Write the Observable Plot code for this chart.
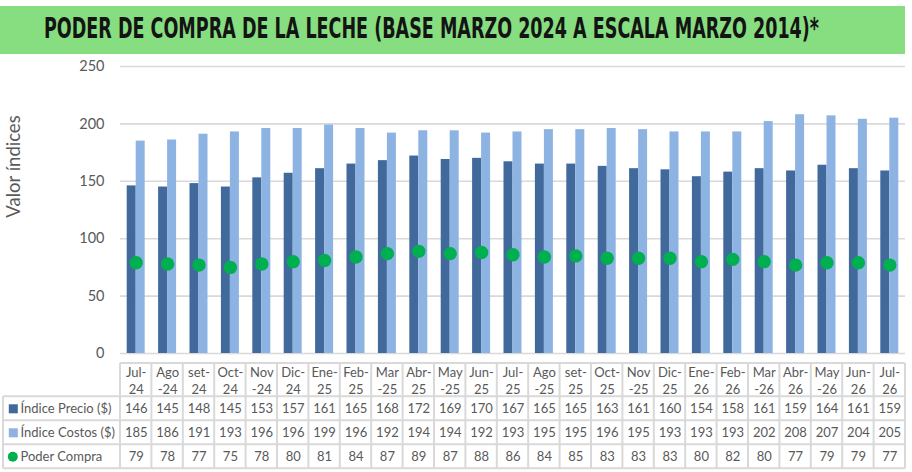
<!DOCTYPE html>
<html><head><meta charset="utf-8">
<script src="https://cdn.jsdelivr.net/npm/d3@7"></script>
<script src="https://cdn.jsdelivr.net/npm/@observablehq/plot@0.6"></script>
<style>
body{margin:0;background:#fff;width:912px;height:472px;overflow:hidden;position:relative;font-family:Lato,sans-serif;}
#banner{position:absolute;left:0;top:6px;width:905px;height:48px;background:#86de80;}
#title{position:absolute;left:44px;top:-1px;line-height:48px;white-space:nowrap;font-family:"DejaVu Sans Condensed","DejaVu Sans",sans-serif;font-weight:bold;font-size:28px;color:#141414;transform-origin:0 50%;display:inline-block;}
#chart{position:absolute;left:0;top:55px;}
</style></head>
<body>
<div id="banner"><span id="title">PODER DE COMPRA DE LA LECHE (BASE MARZO 2024 A ESCALA MARZO 2014)*</span></div>
<div id="chart"></div>
<script>
const months = ["Jul-24","Ago-24","set-24","Oct-24","Nov-24","Dic-24","Ene-25","Feb-25","Mar-25","Abr-25","May-25","Jun-25","Jul-25","Ago-25","set-25","Oct-25","Nov-25","Dic-25","Ene-26","Feb-26","Mar-26","Abr-26","May-26","Jun-26","Jul-26"];
const headerLabels = ["Jul-\n24","Ago\n-24","set-\n24","Oct-\n24","Nov\n-24","Dic-\n24","Ene-\n25","Feb-\n25","Mar\n-25","Abr-\n25","May\n-25","Jun-\n25","Jul-\n25","Ago\n-25","set-\n25","Oct-\n25","Nov\n-25","Dic-\n25","Ene-\n26","Feb-\n26","Mar\n-26","Abr-\n26","May\n-26","Jun-\n26","Jul-\n26"];
const precio = [146,145,148,145,153,157,161,165,168,172,169,170,167,165,165,163,161,160,154,158,161,159,164,161,159];
const costos = [185,186,191,193,196,196,199,196,192,194,194,192,193,195,195,196,195,193,193,193,202,208,207,204,205];
const poder = [79,78,77,75,78,80,81,84,87,89,87,88,86,84,85,83,83,83,80,82,80,77,79,79,77];
const seriesNames = ["Índice Precio ($)","Índice Costos ($)","Poder Compra"];
const yTicks = [0,50,100,150,200,250];
const yLabel = "Valor índices";

const colDark = "#41699c", colLight = "#8db3e2", colGreen = "#00b050", txt = "#595959";

const data = months.map((m,i)=>({m, header: headerLabels[i], precio: precio[i], costos: costos[i], poder: poder[i]}));

// fit title
const t = document.getElementById("title");
const tw = t.getBoundingClientRect().width;
t.style.transform = `scaleX(${775/tw})`;

const W=912, H=417, mt=11, mb=119, ml=120, mr=7;
const fs = 13;
const rowDy = [55.3, 79.3, 103.3];
const tbl = {frameAnchor: "bottom", lineAnchor: "middle", fontSize: fs, fill: txt};
const leg = {frameAnchor: "bottom-left", textAnchor: "start", lineAnchor: "middle", dx: -100, fontSize: fs, fill: txt};

const chart = Plot.plot({
  width: W, height: H, marginTop: mt, marginBottom: mb, marginLeft: ml, marginRight: mr,
  style: {fontFamily: "Lato, sans-serif", color: txt, background: "transparent", overflow: "visible"},
  x: {domain: months, paddingInner: 0.427, paddingOuter: 0.2135, round: false, axis: null},
  y: {domain: [0, 250], axis: null},
  marks: [
    Plot.ruleY(yTicks, {stroke: "#d9d9d9", strokeWidth: 1.6}),
    Plot.barY(data, {x: "m", y: "precio", fill: colDark, insetRight: 9}),
    Plot.barY(data, {x: "m", y: "costos", fill: colLight, insetLeft: 9}),
    Plot.dot(data, {x: "m", y: "poder", r: 6.7, fill: colGreen, stroke: null}),
    Plot.axisY(yTicks, {tickSize: 0, tickPadding: 16, fontSize: 14.5, label: null, fill: txt}),
    Plot.text([yLabel], {frameAnchor: "top-left", textAnchor: "middle", lineAnchor: "middle", dx: -106, dy: 100, rotate: -90, fontSize: 18.5, fill: txt}),
    // table
    Plot.text(data, {...tbl, x: "m", text: "header", dy: 26.7, lineHeight: 1.25}),
    Plot.text(data, {...tbl, x: "m", text: "precio", dy: rowDy[0]}),
    Plot.text(data, {...tbl, x: "m", text: "costos", dy: rowDy[1]}),
    Plot.text(data, {...tbl, x: "m", text: "poder", dy: rowDy[2]}),
    Plot.text([seriesNames[0]], {...leg, dy: rowDy[0]}),
    Plot.text([seriesNames[1]], {...leg, dy: rowDy[1]}),
    Plot.text([seriesNames[2]], {...leg, dy: rowDy[2]}),
    Plot.dot([seriesNames[0]], {frameAnchor: "bottom-left", dx: -107.2, dy: rowDy[0], symbol: "square", r: 5.1, fill: colDark}),
    Plot.dot([seriesNames[1]], {frameAnchor: "bottom-left", dx: -107.2, dy: rowDy[1], symbol: "square", r: 5.1, fill: colLight}),
    Plot.dot([seriesNames[2]], {frameAnchor: "bottom-left", dx: -107.7, dy: rowDy[2], r: 5, fill: colGreen})
  ]
});

// table borders from the Plot x scale
const xs = chart.scale("x");
const centers = months.map(m => xs.apply(m) + xs.bandwidth / 2);
const step = centers[1] - centers[0];
const left = centers[0] - step / 2, right = centers[centers.length - 1] + step / 2;
const yb = H - mb;
const hy = [yb + 10, yb + 43.3, yb + 67.3, yb + 91.3, yb + 115.3];
const g = d3.select(chart).insert("g", ":first-child").attr("stroke", "#d9d9d9").attr("stroke-width", 2).attr("fill", "none");
g.append("line").attr("x1", left).attr("x2", right).attr("y1", hy[0]).attr("y2", hy[0]);
for (let i = 1; i < hy.length; i++) g.append("line").attr("x1", 3).attr("x2", right).attr("y1", hy[i]).attr("y2", hy[i]);
g.append("line").attr("x1", 3).attr("x2", 3).attr("y1", hy[1]).attr("y2", hy[4]);
const edges = [left, ...centers.map(c => c + step / 2)];
edges.forEach(x => g.append("line").attr("x1", x).attr("x2", x).attr("y1", hy[0]).attr("y2", hy[4]));

document.getElementById("chart").append(chart);
</script>
</body></html>
